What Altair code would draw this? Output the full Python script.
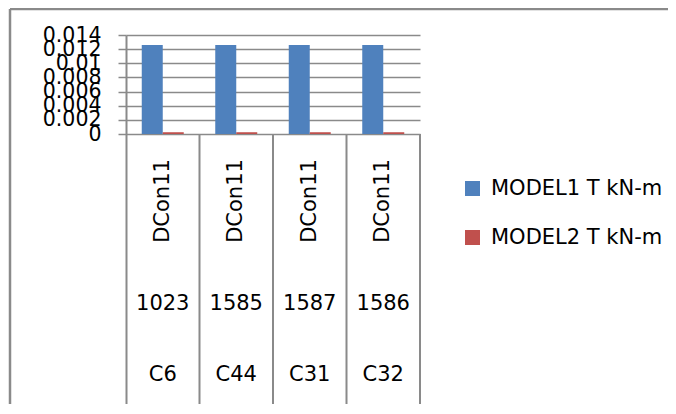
import altair as alt
import pandas as pd

# ---- data ----
columns = ["C6", "C44", "C31", "C32"]
points = ["1023", "1585", "1587", "1586"]
cases = ["DCon11", "DCon11", "DCon11", "DCon11"]
series = ["MODEL1 T kN-m", "MODEL2 T kN-m"]
model1 = [0.0126, 0.0126, 0.0126, 0.0126]
model2 = [0.00025, 0.00025, 0.00025, 0.00025]
y_ticks = [0, 0.002, 0.004, 0.006, 0.008, 0.01, 0.012, 0.014]
colors = ["#4F81BD", "#C0504D"]

# ---- layout (pixels) ----
W, H = 294, 369
ZERO_PX = 99          # distance of the zero line below the plot top
YMAX = 0.014
YMIN = -(H - ZERO_PX) / ZERO_PX * YMAX
GRAY = "#8a8a8a"
FONT = "DejaVu Sans"

bars = pd.DataFrame({
    "col": columns * 2,
    "series": [series[0]] * 4 + [series[1]] * 4,
    "value": model1 + model2,
})
cats = pd.DataFrame({"col": columns, "pt": points, "case": cases})
one = pd.DataFrame({"k": [0]})

xscale = alt.Scale(domain=columns, paddingInner=0, paddingOuter=0)
yscale = alt.Scale(domain=[YMIN, YMAX], nice=False, zero=False)

bar = alt.Chart(bars).mark_bar().encode(
    x=alt.X("col:N", sort=columns, scale=xscale, axis=None),
    xOffset=alt.XOffset("series:N", sort=series,
                        scale=alt.Scale(domain=series, paddingInner=0, paddingOuter=0.75)),
    y=alt.Y("value:Q", scale=yscale, title=None,
            axis=alt.Axis(values=y_ticks, format="~g", grid=True, gridColor=GRAY,
                          gridWidth=1.5, domainColor=GRAY, domainWidth=2,
                          tickColor=GRAY, tickSize=8, tickWidth=1.5,
                          labelFont=FONT, labelFontSize=20.5, labelColor="black",
                          labelPadding=17, labelOverlap=False, labelFlush=False,
                          labelBaseline="middle")),
    y2=alt.datum(0),
    color=alt.Color("series:N", sort=series,
                    scale=alt.Scale(domain=series, range=colors),
                    legend=alt.Legend(title=None, orient="none", legendX=336, legendY=143,
                                      symbolType="square", symbolSize=225,
                                      symbolStrokeWidth=0, symbolOpacity=1,
                                      labelFont=FONT, labelFontSize=21,
                                      labelColor="black", labelOffset=8,
                                      labelLimit=400,
                                      rowPadding=27, padding=0)),
)

sep = alt.Chart(cats).mark_rule(color=GRAY, strokeWidth=2).encode(
    x=alt.X("col:N", sort=columns, scale=xscale, axis=None, bandPosition=1),
    y=alt.datum(0),
    y2=alt.value(H),
)

case_text = alt.Chart(cats).mark_text(angle=270, font=FONT, fontSize=21,
                                      align="center", baseline="middle",
                                      color="black").encode(
    x=alt.X("col:N", sort=columns, scale=xscale, axis=None),
    y=alt.value(166),
    text="case:N",
)
pt_text = alt.Chart(cats).mark_text(font=FONT, fontSize=21, align="center",
                                    baseline="middle", color="black").encode(
    x=alt.X("col:N", sort=columns, scale=xscale, axis=None),
    y=alt.value(269),
    text="pt:N",
)
col_text = alt.Chart(cats).mark_text(font=FONT, fontSize=21, align="center",
                                     baseline="middle", color="black").encode(
    x=alt.X("col:N", sort=columns, scale=xscale, axis=None),
    y=alt.value(340),
    text="col:N",
)

border_top = alt.Chart(one).mark_rule(color=GRAY, strokeWidth=2.5).encode(
    x=alt.value(-116), x2=alt.value(560), y=alt.value(-26))
border_left = alt.Chart(one).mark_rule(color=GRAY, strokeWidth=2.5).encode(
    x=alt.value(-116), y=alt.value(-26), y2=alt.value(H))

chart = alt.layer(border_top, border_left, sep, bar, case_text, pt_text, col_text).properties(
    width=W, height=H,
    autosize=alt.AutoSizeParams(type="none"),
    padding={"left": 118, "top": 27, "right": 248, "bottom": 0},
).configure_view(stroke=None)

chart.save("out.html", embed_options={"renderer": "svg", "actions": False})
